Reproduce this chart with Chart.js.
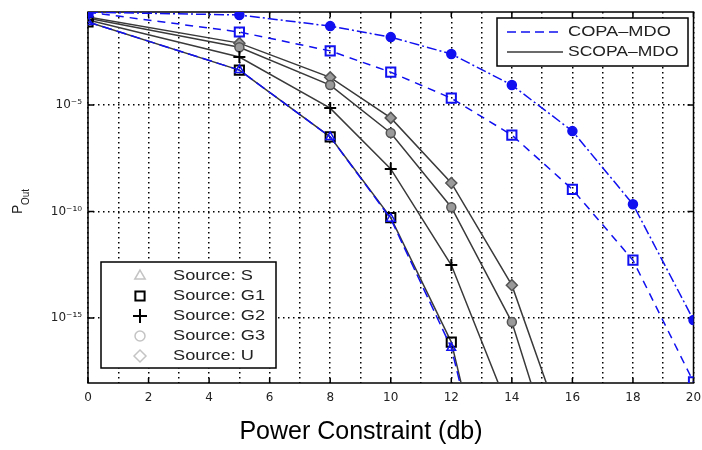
<!DOCTYPE html>
<html>
<head>
<meta charset="utf-8">
<script src="https://cdn.jsdelivr.net/npm/chart.js@4.4.0/dist/chart.umd.min.js"></script>
<style>
  html, body { margin: 0; padding: 0; background: #fff; }
  #wrap { width: 702px; height: 450px; position: relative; }
</style>
</head>
<body>
<div id="wrap"><canvas id="outageChart"></canvas></div>
<script>
// ===== DATA =====
const powerDb = [0, 5, 8, 10, 12, 14, 16, 18, 20];

// COPA-MDO curves (blue)
const copaFilled = [0.23, 0.17, 0.051, 0.0155, 2.5e-3, 8.7e-5, 6.0e-7, 2.2e-10, 8.1e-16];
const copaSquare = [0.23, 0.027, 3.5e-3, 3.5e-4, 2.1e-5, 3.9e-7, 1.1e-9, 5.2e-13, 1.0e-18];
const copaTriangle = [0.08, 4.4e-4, 3.2e-7, 4.6e-11, 4.0e-17, 1e-28, null, null, null];

// SCOPA-MDO curves (black), one per source
const scopaG1 = [0.08, 4.4e-4, 3.2e-7, 5.2e-11, 7.4e-17, 1e-28, null, null, null];
const scopaG2 = [0.1, 1.8e-3, 7.2e-6, 1.0e-8, 3.1e-13, 2.2e-20, null, null, null];
const scopaG3 = [0.12, 5.2e-3, 8.7e-5, 4.9e-7, 1.6e-10, 6.5e-16, 6e-25, null, null];
const scopaU = [0.135, 8.1e-3, 2.0e-4, 2.5e-6, 2.2e-9, 3.5e-14, 3e-22, null, null];

// axis ticks
const xTickValues = [0, 2, 4, 6, 8, 10, 12, 14, 16, 18, 20];
const yTickValues = [1e-15, 1e-10, 1e-5];
const yTickLabels = ['10⁻¹⁵', '10⁻¹⁰', '10⁻⁵'];

// legend texts
const lineLegend = ['COPA–MDO', 'SCOPA–MDO'];
const sourceLegend = ['Source: S', 'Source: G1', 'Source: G2', 'Source: G3', 'Source: U'];

const BLUE = '#1010f0';
const DARK = '#3a3a3a';
const GRAY = '#9a9a9a';
const LIGHT = '#c4c4c4';

// ===== HELPERS =====
function series(values, style) {
    return Object.assign({
        data: values.map((v, i) => ({ x: powerDb[i], y: v })),
        tension: 0,
        spanGaps: false,
        borderWidth: 1.5,
        pointBorderWidth: 1.5,
        pointBackgroundColor: 'rgba(0,0,0,0)'
    }, style);
}

function stretchedText(ctx, text, x, y, sx) {
    ctx.save();
    ctx.translate(x, y);
    ctx.scale(sx, 1);
    ctx.fillText(text, 0, 0);
    ctx.restore();
}

function marker(ctx, style, x, y, radius, color, width) {
    ctx.save();
    ctx.strokeStyle = color;
    ctx.fillStyle = '#fff';
    ctx.lineWidth = width;
    Chart.helpers.drawPoint(ctx, { pointStyle: style, radius: radius, borderWidth: width, rotation: 0 }, x, y);
    ctx.restore();
}

// frame, MATLAB style inner ticks, legends and titles
const decorations = {
    id: 'decorations',
    beforeDatasetsDraw(chart) {
        const { ctx, chartArea: a, scales } = chart;
        ctx.save();
        ctx.strokeStyle = '#000';
        ctx.lineWidth = 1.5;
        ctx.beginPath();
        xTickValues.forEach(v => {
            const px = scales.x.getPixelForValue(v);
            ctx.moveTo(px, a.bottom); ctx.lineTo(px, a.bottom - 5);
            ctx.moveTo(px, a.top); ctx.lineTo(px, a.top + 5);
        });
        yTickValues.forEach(v => {
            const py = scales.y.getPixelForValue(v);
            ctx.moveTo(a.left, py); ctx.lineTo(a.left + 6, py);
            ctx.moveTo(a.right, py); ctx.lineTo(a.right - 6, py);
        });
        ctx.stroke();
        ctx.strokeRect(a.left, a.top, a.right - a.left, a.bottom - a.top);
        ctx.restore();
    },
    afterDraw(chart) {
        const ctx = chart.ctx;
        ctx.save();

        // legend: line types
        ctx.fillStyle = '#fff';
        ctx.fillRect(497, 18, 191, 48);
        ctx.strokeStyle = '#000';
        ctx.lineWidth = 1.5;
        ctx.strokeRect(497, 18, 191, 48);

        ctx.beginPath();
        ctx.setLineDash([9, 5]);
        ctx.strokeStyle = BLUE;
        ctx.moveTo(507, 32); ctx.lineTo(563, 32);
        ctx.stroke();
        ctx.beginPath();
        ctx.setLineDash([]);
        ctx.strokeStyle = DARK;
        ctx.moveTo(507, 52); ctx.lineTo(563, 52);
        ctx.stroke();

        ctx.font = '14px "Liberation Sans", Arial, sans-serif';
        ctx.fillStyle = '#222';
        ctx.textBaseline = 'middle';
        ctx.textAlign = 'left';
        stretchedText(ctx, lineLegend[0], 568, 32, 1.3);
        stretchedText(ctx, lineLegend[1], 568, 52, 1.25);

        // legend: sources
        ctx.fillStyle = '#fff';
        ctx.fillRect(101, 262, 175, 106);
        ctx.strokeStyle = '#000';
        ctx.lineWidth = 1.5;
        ctx.strokeRect(101, 262, 175, 106);

        const rows = [276, 296, 316, 336, 356];
        marker(ctx, 'triangle', 140, rows[0], 6, LIGHT, 1.5);
        marker(ctx, 'rect', 140, rows[1], 6.5, '#000', 2);
        marker(ctx, 'cross', 140, rows[2], 7, '#000', 2);
        marker(ctx, 'circle', 140, rows[3], 5, LIGHT, 1.5);
        marker(ctx, 'rectRot', 140, rows[4], 6, LIGHT, 1.5);

        ctx.fillStyle = '#222';
        ctx.font = '14px "Liberation Sans", Arial, sans-serif';
        sourceLegend.forEach((t, i) => stretchedText(ctx, t, 173, rows[i], 1.3));

        // x title (sits left of the plot centre in the reference)
        ctx.fillStyle = '#000';
        ctx.textAlign = 'center';
        ctx.font = '25px "Liberation Sans", Arial, sans-serif';
        ctx.fillText('Power Constraint (db)', 361, 432);

        // y title P_Out, rotated
        ctx.translate(18, 214);
        ctx.rotate(-Math.PI / 2);
        ctx.textAlign = 'left';
        ctx.fillStyle = '#222';
        ctx.font = '14px "Liberation Sans", Arial, sans-serif';
        ctx.fillText('P', 0, 0);
        ctx.font = '10px "Liberation Sans", Arial, sans-serif';
        ctx.fillText('Out', 9, 8);

        ctx.restore();
    }
};

// ===== CHART =====
const tickFont = { family: '"DejaVu Sans", sans-serif', size: 12 };

new Chart(document.getElementById('outageChart'), {
    type: 'line',
    data: {
        datasets: [
            series(copaFilled, { borderColor: BLUE, borderDash: [10, 3, 2, 3], pointStyle: 'circle', pointRadius: 4.5, pointBorderColor: BLUE, pointBackgroundColor: BLUE }),
            series(copaSquare, { borderColor: BLUE, borderDash: [8, 6], pointStyle: 'rect', pointRadius: 6.5, pointBorderColor: BLUE, pointBorderWidth: 2 }),
            series(copaTriangle, { borderColor: BLUE, borderDash: [10, 5], pointStyle: 'triangle', pointRadius: 5, pointBorderColor: BLUE, clip: 0 }),
            series(scopaG1, { borderColor: DARK, pointStyle: 'rect', pointRadius: 6.5, pointBorderColor: '#000', pointBorderWidth: 2, clip: 0 }),
            series(scopaG2, { borderColor: DARK, pointStyle: 'cross', pointRadius: 6, pointBorderColor: '#000', pointBorderWidth: 2, clip: 0 }),
            series(scopaG3, { borderColor: DARK, pointStyle: 'circle', pointRadius: 4.5, pointBorderColor: '#555', pointBackgroundColor: GRAY, clip: 0 }),
            series(scopaU, { borderColor: DARK, pointStyle: 'rectRot', pointRadius: 5.5, pointBorderColor: '#555', pointBackgroundColor: GRAY, clip: 0 })
        ]
    },
    options: {
        responsive: true,
        maintainAspectRatio: false,
        animation: false,
        layout: { padding: { top: 12, right: 5, left: 0, bottom: 0 } },
        plugins: {
            legend: { display: false },
            tooltip: { enabled: false }
        },
        scales: {
            x: {
                type: 'linear',
                min: 0,
                max: 20,
                grid: { color: '#000', lineWidth: 1.5, drawTicks: false },
                border: { display: false, dash: [1.5, 3.5] },
                ticks: {
                    stepSize: 1,
                    autoSkip: false,
                    maxRotation: 0,
                    padding: 8,
                    color: '#222',
                    font: tickFont,
                    callback: v => (v % 2 === 0 ? String(v) : '')
                },
                afterFit(scale) {
                    scale.height = 67;
                    scale.paddingLeft = 0;
                    scale.paddingRight = 0;
                }
            },
            y: {
                type: 'logarithmic',
                min: Math.pow(10, -18.05),
                max: Math.pow(10, -0.63),
                grid: { color: '#000', lineWidth: 1.5, drawTicks: false },
                border: { display: false, dash: [1.5, 3.5] },
                ticks: {
                    padding: 6,
                    color: '#222',
                    font: tickFont,
                    callback: (v, i) => yTickLabels[i]
                },
                afterBuildTicks(scale) {
                    scale.ticks = yTickValues.map(v => ({ value: v }));
                },
                afterFit(scale) {
                    scale.width = 88;
                    scale.paddingTop = 0;
                    scale.paddingBottom = 0;
                }
            }
        }
    },
    plugins: [decorations]
});
</script>
</body>
</html>
